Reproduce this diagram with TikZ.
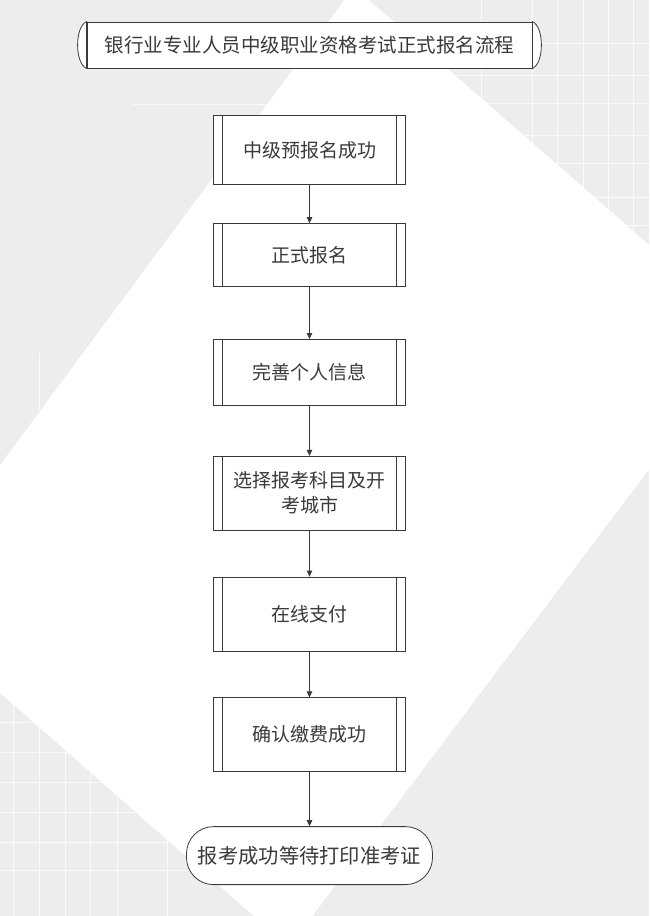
\documentclass[tikz,border=0pt]{standalone}
\usepackage{fontspec}
\newfontfamily\cjk{Noto Sans CJK SC}
\usepackage{tikz}
\usetikzlibrary{positioning,arrows.meta}
\definecolor{bggray}{HTML}{EDEDED}
\definecolor{inkgray}{HTML}{3A3A3A}
\tikzset{
    every edge/.style={draw,->,>={Triangle[width=5.5pt,length=6pt]},line width=0.8pt,draw=inkgray},
    proc/.style={draw=inkgray,fill=white,line width=0.8pt,minimum width=192pt,text=inkgray,align=center,
        font=\cjk\fontsize{19pt}{25pt}\selectfont,
        path picture={\draw[inkgray,line width=0.8pt]
            ([xshift=9pt]path picture bounding box.north west) -- ([xshift=9pt]path picture bounding box.south west)
            ([xshift=-9pt]path picture bounding box.north east) -- ([xshift=-9pt]path picture bounding box.south east);}},
    heading/.style={draw=inkgray,fill=white,line width=0.8pt,minimum width=445pt,minimum height=46pt,text=inkgray,
        font=\cjk\fontsize{19.5pt}{22pt}\selectfont},
    finish/.style={draw=inkgray,fill=white,line width=0.8pt,rounded corners=27pt,minimum width=246pt,minimum height=58pt,
        text=inkgray,font=\cjk\fontsize{20.3pt}{25pt}\selectfont},
    gridline/.style={white,line width=0.6pt,draw opacity=0.75},
}

\begin{document}
\begin{tikzpicture}[x=1pt,y=-1pt]
    \useasboundingbox (0,0) rectangle (649,916);
    \clip (0,0) rectangle (649,916);

    % background
    \fill[bggray] (0,0) rectangle (649,916);
    \foreach \x in {481,532,557,583,608,633}
        \draw[gridline] (\x,0) -- (\x,260);
    \foreach \y in {43,75,103,135,163,197,225}
        \draw[gridline] (440,\y) -- (649,\y);
    \foreach \x in {13,39,65,90,117,167}
        \draw[gridline] (\x,690) -- (\x,916);
    \foreach \y in {722,752,782,812,842,870}
        \draw[gridline] (0,\y) -- (260,\y);
    \draw[gridline] (133,104) -- (300,104);
    \draw[gridline] (39,353) -- (39,410);
    \fill[white] (354,-13) -- (751,334) -- (289,947) -- (-102,603) -- cycle;

    \node[heading] (title) at (309.5,45) {银行业专业人员中级职业资格考试正式报名流程};
    \filldraw[draw=inkgray,fill=white,line width=0.8pt]
        (title.north west) .. controls +(-12pt,-5pt) and +(-12pt,5pt) .. (title.south west) -- cycle
        (title.north east) .. controls +(12pt,-5pt) and +(12pt,5pt) .. (title.south east) -- cycle;

    \node[proc,minimum height=69pt,below=47pt of title] (pre) {中级预报名成功};
    \node[proc,minimum height=63pt,below=38pt of pre] (formal) {正式报名};
    \node[proc,minimum height=66pt,below=52pt of formal] (info) {完善个人信息};
    \node[proc,minimum height=74pt,below=50pt of info] (subject) {选择报考科目及开\\考城市};
    \node[proc,minimum height=74pt,below=46pt of subject] (pay) {在线支付};
    \node[proc,minimum height=74pt,below=46pt of pay] (confirm) {确认缴费成功};
    \node[finish,below=54pt of confirm] (done) {报考成功等待打印准考证};

    \path
    (pre) edge (formal)
    (formal) edge (info)
    (info) edge (subject)
    (subject) edge (pay)
    (pay) edge (confirm)
    (confirm) edge (done);
\end{tikzpicture}
\end{document}
